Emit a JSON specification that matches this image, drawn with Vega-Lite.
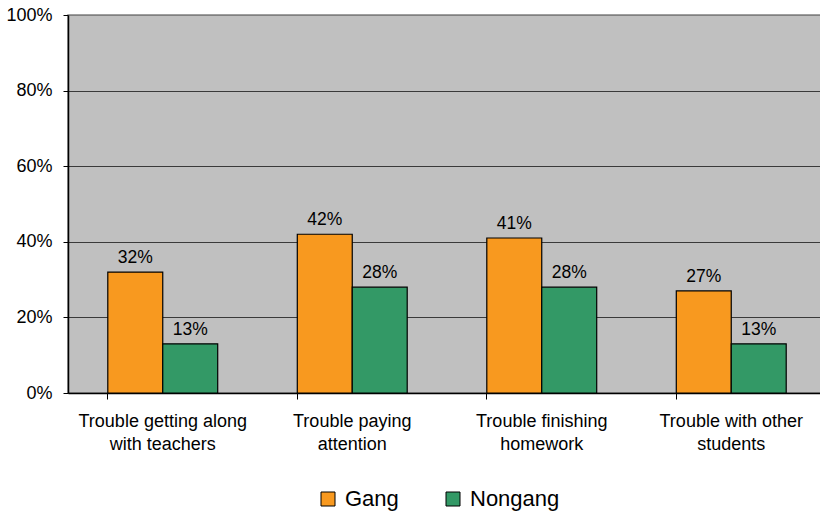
{
  "$schema": "https://vega.github.io/schema/vega-lite/v6.json",
  "autosize": "none",
  "width": 758,
  "height": 378,
  "padding": {"left": 68, "top": 15, "right": 0, "bottom": 121},
  "background": "white",
  "config": {
    "font": "Liberation Sans",
    "view": {"fill": "#C0C0C0", "stroke": "#808080", "strokeWidth": 1.5}
  },
  "data": {
    "values": [
      {"category": "Trouble getting along|with teachers", "group": "Gang", "value": 0.32},
      {"category": "Trouble getting along|with teachers", "group": "Nongang", "value": 0.13},
      {"category": "Trouble paying|attention", "group": "Gang", "value": 0.42},
      {"category": "Trouble paying|attention", "group": "Nongang", "value": 0.28},
      {"category": "Trouble finishing|homework", "group": "Gang", "value": 0.41},
      {"category": "Trouble finishing|homework", "group": "Nongang", "value": 0.28},
      {"category": "Trouble with other|students", "group": "Gang", "value": 0.27},
      {"category": "Trouble with other|students", "group": "Nongang", "value": 0.13}
    ]
  },
  "encoding": {
    "x": {
      "field": "category",
      "type": "nominal",
      "sort": null,
      "scale": {"paddingInner": 0.42, "paddingOuter": 0.21},
      "axis": {
        "title": null,
        "labelAngle": 0,
        "labelExpr": "split(datum.label, '|')",
        "labelFontSize": 18,
        "labelLineHeight": 23,
        "labelColor": "#000000",
        "labelPadding": 13,
        "bandPosition": 0,
        "tickSize": 6,
        "tickColor": "#000000",
        "domainColor": "#000000",
        "domainWidth": 1.5,
        "labelBaseline": "top"
      }
    },
    "xOffset": {"field": "group", "type": "nominal", "scale": {"paddingInner": 0, "paddingOuter": 0}},
    "y": {
      "field": "value",
      "type": "quantitative",
      "scale": {"domain": [0, 1], "nice": false},
      "axis": {
        "title": null,
        "format": ".0%",
        "values": [0, 0.2, 0.4, 0.6, 0.8, 1],
        "labelFontSize": 18,
        "labelColor": "#000000",
        "labelPadding": 11,
        "tickSize": 5,
        "tickColor": "#000000",
        "domainColor": "#000000",
        "domainWidth": 1.5,
        "grid": true,
        "gridColor": {"condition": {"test": "datum.value == 1", "value": "#808080"}, "value": "#3A3A3A"},
        "gridWidth": 1.2
      }
    }
  },
  "layer": [
    {
      "mark": {"type": "bar", "stroke": "#000000", "strokeWidth": 1.2},
      "encoding": {
        "color": {
          "field": "group",
          "type": "nominal",
          "scale": {"domain": ["Gang", "Nongang"], "range": ["#F8991F", "#339966"]},
          "legend": {
            "title": null,
            "orient": "none",
            "direction": "horizontal",
            "legendX": 249,
            "legendY": 473,
            "symbolType": "square",
            "symbolSize": 196,
            "symbolStrokeColor": "#000000",
            "symbolStrokeWidth": 1,
            "labelFontSize": 22,
            "labelColor": "#000000",
            "columnPadding": 43,
            "labelOffset": 6
          }
        }
      }
    },
    {
      "mark": {"type": "text", "baseline": "alphabetic", "dy": -9, "fontSize": 17.5, "color": "#000000"},
      "encoding": {
        "text": {"field": "value", "type": "quantitative", "format": ".0%"}
      }
    }
  ]
}
